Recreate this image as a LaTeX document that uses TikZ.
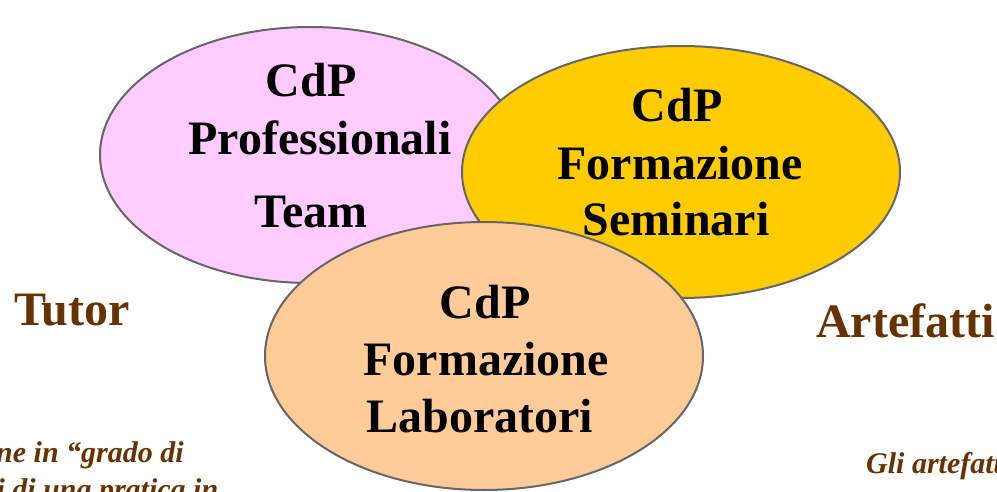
\documentclass[tikz,border=0pt]{standalone}
\usepackage{fontspec}
\setmainfont{Liberation Serif}
\usepackage{tikz}
\usetikzlibrary{shapes.geometric}
\definecolor{cdppink}{RGB}{255,204,255}
\definecolor{cdpyellow}{RGB}{255,204,0}
\definecolor{cdppeach}{RGB}{255,204,153}
\definecolor{cdpedge}{RGB}{102,102,102}
\definecolor{cdpbrown}{RGB}{102,51,0}
\tikzset{
  cdp/.style={ellipse,draw=cdpedge,line width=2pt,inner sep=0pt},
  bigtext/.style={anchor=base,inner sep=0pt,font=\fontsize{48}{56}\selectfont\bfseries},
  sidetext/.style={anchor=base west,inner sep=0pt,text=cdpbrown,font=\fontsize{48}{56}\selectfont\bfseries},
  notetext/.style={anchor=base west,inner sep=0pt,text=cdpbrown,font=\fontsize{30}{36}\selectfont\bfseries\itshape}
}
\begin{document}
\begin{tikzpicture}[x=1pt,y=-1pt]
\clip (0,0) rectangle (997,492);
\fill[white] (0,0) rectangle (997,492);

% Ellipses
\node[cdp,fill=cdppink,minimum width=420pt,minimum height=256pt] (prof) at (310,155) {};
\node[cdp,fill=cdpyellow,minimum width=438pt,minimum height=252pt] (sem) at (681,172) {};
\node[cdp,fill=cdppeach,minimum width=438pt,minimum height=268pt] (lab) at (484,356) {};

% Labels
\node[bigtext] (profa) at (311,97) {CdP};
\node[bigtext] (profb) at (320,155) {Professionali};
\node[bigtext] (profc) at (311,228) {Team};
\node[bigtext] (sema) at (677,122) {CdP};
\node[bigtext] (semb) at (680,180) {Formazione};
\node[bigtext] (semc) at (676,236) {Seminari};
\node[bigtext] (laba) at (485,318) {CdP};
\node[bigtext] (labb) at (486,375) {Formazione};
\node[bigtext] (labc) at (480,432) {Laboratori};

% Side words
\node[sidetext] (tutor) at (14,325) {Tutor};
\node[sidetext] (artef) at (816,337) {Artefatti};

% Notes (cut by the frame)
\node[notetext] (notel) at (-4,462) {ne in “grado di};
\node[notetext] (notel2) at (-12,499) {ti di una pratica in};
\node[notetext] (noter) at (866,473) {Gli artefatti};
\end{tikzpicture}
\end{document}
